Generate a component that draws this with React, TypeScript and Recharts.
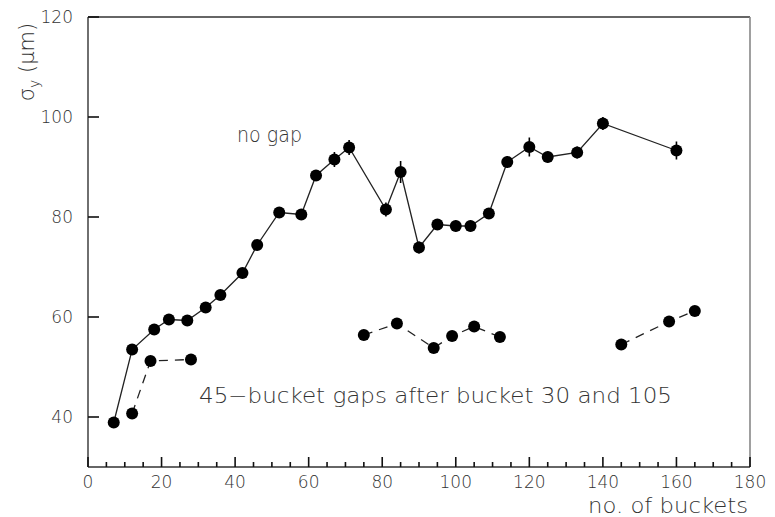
import { LineChart, Line, XAxis, YAxis, ErrorBar, ReferenceLine } from "recharts";

// resolution vs. number of filled buckets, continuous fill
const noGapBuckets = [7, 12, 18, 22, 27, 32, 36, 42, 46, 52, 58, 62, 67, 71, 81, 85, 90, 95, 100, 104, 109, 114, 120, 125, 133, 140, 160];
const noGapSigma = [38.9, 53.5, 57.5, 59.5, 59.3, 61.9, 64.4, 68.8, 74.4, 80.9, 80.5, 88.3, 91.5, 93.9, 81.5, 89.0, 73.9, 78.5, 78.2, 78.2, 80.7, 91.0, 94.0, 92.0, 92.9, 98.7, 93.3];
const noGapErr = [0.8, 0.8, 0.8, 0.8, 0.8, 0.8, 0.9, 0.9, 1.0, 1.0, 1.0, 1.1, 1.5, 1.5, 1.4, 2.2, 1.2, 1.1, 1.1, 1.1, 1.1, 1.2, 1.9, 1.1, 1.2, 1.3, 1.8];

// with 45-bucket gaps: three separate runs
const gapRunABuckets = [12, 17, 28];
const gapRunASigma = [40.7, 51.2, 51.5];
const gapRunBBuckets = [75, 84, 94, 99, 105, 112];
const gapRunBSigma = [56.4, 58.7, 53.8, 56.2, 58.1, 56.0];
const gapRunCBuckets = [145, 158, 165];
const gapRunCSigma = [54.5, 59.1, 61.2];

const xTicks = [0, 5, 10, 15, 20, 25, 30, 35, 40, 45, 50, 55, 60, 65, 70, 75, 80, 85, 90, 95, 100, 105, 110, 115, 120, 125, 130, 135, 140, 145, 150, 155, 160, 165, 170, 175, 180];
const xLabels = [0, 20, 40, 60, 80, 100, 120, 140, 160, 180];
const yTicks = [40, 60, 80, 100, 120];

const X_MIN = 0;
const X_MAX = 180;
const Y_MIN = 30;
const Y_MAX = 120;

const zip = (xs: number[], ys: number[], errs?: number[]) =>
  xs.map((bucket, i) => ({ bucket, sigma: ys[i], err: errs ? errs[i] : 0 }));

const noGap = zip(noGapBuckets, noGapSigma, noGapErr);
const gapRunA = zip(gapRunABuckets, gapRunASigma);
const gapRunB = zip(gapRunBBuckets, gapRunBSigma);
const gapRunC = zip(gapRunCBuckets, gapRunCSigma);

const INK = "#333";
const TICK = "#111";
const FONT = "'DejaVu Sans', sans-serif";
const frame = { stroke: INK, strokeWidth: 1.4 };

// tick mark drawn inward from the axis, plus the label for every 20 buckets
function BucketTick({ x, y, payload }: any) {
  const v = payload.value;
  const major = xLabels.includes(v);
  const len = major ? 10 : 5;
  return (
    <g>
      <rect x={x - 0.8} y={y - len} width={1.6} height={len} fill={TICK} stroke="none" />
      {major && (
        <text x={x} y={y + 21} textAnchor="middle" fontSize={17} fontFamily={FONT} fontWeight={200} fill={INK}>
          {v}
        </text>
      )}
    </g>
  );
}

function SigmaTick({ x, y, payload }: any) {
  return (
    <g>
      <rect x={x} y={y - 0.8} width={11} height={1.6} fill={TICK} stroke="none" />
      <text x={x - 15} y={y} dy="0.36em" textAnchor="end" fontSize={17} fontFamily={FONT} fontWeight={200} fill={INK}>
        {payload.value}
      </text>
    </g>
  );
}

const dot = { r: 6, fill: "#000", stroke: "none" };

export default function App() {
  return (
    <div style={{ position: "absolute", left: 0, top: 0, background: "#fff" }}>
      <LineChart width={775} height={517} margin={{ top: 17, right: 25, left: 28, bottom: 20 }}>
        <ReferenceLine y={Y_MAX} stroke={INK} strokeWidth={1.4} />
        <ReferenceLine x={X_MAX} stroke="#888" strokeWidth={1.6} />

        <Line data={noGap} dataKey="sigma" type="linear" stroke="#222" strokeWidth={1.3} dot={dot} isAnimationActive={false}>
          <ErrorBar dataKey="err" width={0} stroke="#000" strokeWidth={1.6} direction="y" />
        </Line>
        <Line data={gapRunA} dataKey="sigma" type="linear" stroke="#222" strokeWidth={1.3} strokeDasharray="9 7" dot={dot} isAnimationActive={false} />
        <Line data={gapRunB} dataKey="sigma" type="linear" stroke="#222" strokeWidth={1.3} strokeDasharray="9 7" dot={dot} isAnimationActive={false} />
        <Line data={gapRunC} dataKey="sigma" type="linear" stroke="#222" strokeWidth={1.3} strokeDasharray="9 7" dot={dot} isAnimationActive={false} />

        <XAxis
          dataKey="bucket"
          type="number"
          domain={[X_MIN, X_MAX]}
          ticks={xTicks}
          interval={0}
          axisLine={frame}
          tickLine={false}
          tickSize={0}
          tickMargin={0}
          height={30}
          tick={(p: any) => <BucketTick {...p} />}
        />
        <YAxis
          type="number"
          domain={[Y_MIN, Y_MAX]}
          ticks={yTicks}
          interval={0}
          axisLine={frame}
          tickLine={false}
          tickSize={0}
          tickMargin={0}
          width={60}
          tick={(p: any) => <SigmaTick {...p} />}
        />

        <text x={237} y={141.5} fontSize={21} fontFamily={FONT} fontWeight={200} fill={INK} textLength={65} lengthAdjust="spacingAndGlyphs">
          no gap
        </text>
        <text x={199} y={403} fontSize={21} fontFamily={FONT} fontWeight={200} fill={INK} textLength={473} lengthAdjust="spacingAndGlyphs">
          45−bucket gaps after bucket 30 and 105
        </text>
        <text x={748} y={513} textAnchor="end" fontSize={21} fontFamily={FONT} fontWeight={200} fill={INK} textLength={160} lengthAdjust="spacingAndGlyphs">
          no. of buckets
        </text>
        <text transform="translate(34,62) rotate(-90)" textAnchor="middle" fontSize={21} fontFamily={FONT} fontWeight={200} fill={INK}>
          σ<tspan fontSize={14} dy={5}>y</tspan>
          <tspan dy={-5}> (μm)</tspan>
        </text>
      </LineChart>
    </div>
  );
}
